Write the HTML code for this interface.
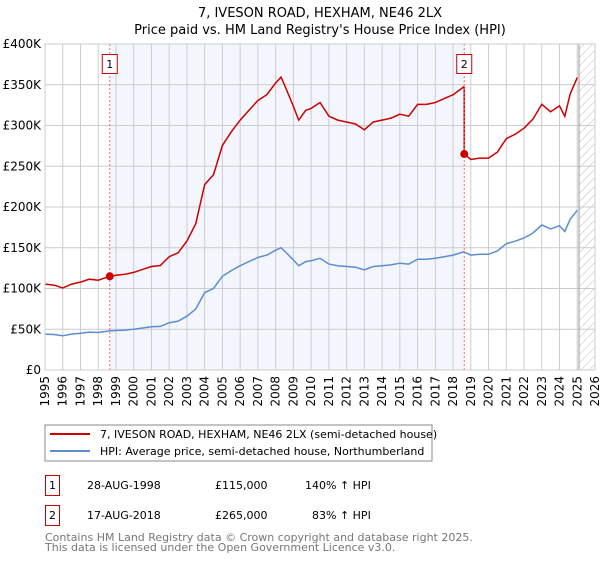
<!DOCTYPE html>
<html><head><meta charset="utf-8"><style>
body{margin:0;background:#fff;font-family:"DejaVu Sans","Liberation Sans",sans-serif;}
svg text{font-family:"DejaVu Sans","Liberation Sans",sans-serif;}
</style></head><body>
<svg id="c" width="600" height="560" xmlns="http://www.w3.org/2000/svg">
<defs><pattern id="hatch" width="6" height="6" patternUnits="userSpaceOnUse" patternTransform="rotate(45)"><line x1="0" y1="0" x2="0" y2="6" stroke="#bbb" stroke-width="1"/></pattern></defs>
<text x="320" y="17" text-anchor="middle" font-size="13" fill="#000">7, IVESON ROAD, HEXHAM, NE46 2LX</text>
<text x="320" y="34" text-anchor="middle" font-size="13" fill="#000">Price paid vs. HM Land Registry's House Price Index (HPI)</text>
<g id="grid"></g><g id="marks"></g><g id="axes"></g>
<rect x="45" y="425" width="387" height="36" fill="#fff" stroke="#888"/>
<line x1="50" y1="434" x2="90" y2="434" stroke="#cc0000" stroke-width="2"/>
<text x="100" y="438" font-size="11">7, IVESON ROAD, HEXHAM, NE46 2LX (semi-detached house)</text>
<line x1="50" y1="451" x2="90" y2="451" stroke="#5b8ed0" stroke-width="2"/>
<text x="100" y="455" font-size="11">HPI: Average price, semi-detached house, Northumberland</text>
<g font-size="11">
<rect x="45.5" y="475.5" width="14" height="20" fill="#fff" stroke="#cc0000"/>
<text x="52.5" y="489" text-anchor="middle">1</text>
<text x="87" y="489">28-AUG-1998</text>
<text x="215" y="489">£115,000</text>
<text x="305" y="489">140% ↑ HPI</text>
<rect x="45.5" y="505.5" width="14" height="20" fill="#fff" stroke="#cc0000"/>
<text x="52.5" y="519" text-anchor="middle">2</text>
<text x="87" y="519">17-AUG-2018</text>
<text x="215" y="519">£265,000</text>
<text x="312" y="519">83% ↑ HPI</text>
</g>
<text x="45" y="541" font-size="11" fill="#777">Contains HM Land Registry data © Crown copyright and database right 2025.</text>
<text x="45" y="551" font-size="11" fill="#777">This data is licensed under the Open Government Licence v3.0.</text>
</svg>
<script>
const hpiYears=[1995,1995.5,1996,1996.5,1997,1997.5,1998,1998.65,1999,1999.5,2000,2000.5,2001,2001.5,2002,2002.5,2003,2003.5,2004,2004.5,2005,2005.5,2006,2006.5,2007,2007.5,2008,2008.3,2008.5,2009,2009.3,2009.7,2010,2010.5,2011,2011.5,2012,2012.5,2013,2013.5,2014,2014.5,2015,2015.5,2016,2016.5,2017,2017.5,2018,2018.6,2019,2019.5,2020,2020.5,2021,2021.5,2022,2022.5,2023,2023.5,2024,2024.3,2024.6,2025];
const hpiValues=[44000,43500,42000,44000,45000,46500,46000,48000,48500,49000,50000,51500,53000,53500,58000,60000,66000,75000,95000,100000,115000,122000,128000,133000,138000,141000,147000,150000,146000,135000,128000,133000,134000,137000,130000,128000,127000,126000,123000,127000,128000,129000,131000,130000,136000,136000,137000,139000,141000,145000,141000,142000,142000,146000,155000,158000,162000,168000,178000,173000,177000,170000,185000,196000];
const saleYears=[1998.65,2018.63];
const salePrices=[115000,265000];
const saleLabels=["1","2"];
const yTicks=[0,50000,100000,150000,200000,250000,300000,350000,400000];
const yTickLabels=["£0","£50K","£100K","£150K","£200K","£250K","£300K","£350K","£400K"];
const xTicks=[1995,1996,1997,1998,1999,2000,2001,2002,2003,2004,2005,2006,2007,2008,2009,2010,2011,2012,2013,2014,2015,2016,2017,2018,2019,2020,2021,2022,2023,2024,2025,2026];

const X0=45,X1=595,Y0=370,Y1=44;
const x=t=>X0+(t-1995)/(2026-1995)*(X1-X0);
const y=v=>Y0-v/400000*(Y0-Y1);
const NS="http://www.w3.org/2000/svg";
function mk(tag,attrs,parent){const e=document.createElementNS(NS,tag);for(const k in attrs)e.setAttribute(k,attrs[k]);parent.appendChild(e);return e;}
const grid=document.getElementById('grid'),marks=document.getElementById('marks'),axes=document.getElementById('axes');
function hpiAt(t){for(let i=0;i<hpiYears.length-1;i++){if(t>=hpiYears[i]&&t<=hpiYears[i+1]){const f=(t-hpiYears[i])/(hpiYears[i+1]-hpiYears[i]);return hpiValues[i]+f*(hpiValues[i+1]-hpiValues[i]);}}return hpiValues[hpiValues.length-1];}

let r=mk('rect',{x:x(saleYears[0]),y:Y1,width:x(saleYears[1])-x(saleYears[0]),height:Y0-Y1,fill:'#f3f6fd'},grid);


let h=mk('rect',{x:x(2025.1),y:Y1,width:X1-x(2025.1),height:Y0-Y1,fill:'url(#hatch)'},grid);


xTicks.forEach((t,i)=>{
  const l=mk('line',{x1:x(t),x2:x(t),y1:Y1,y2:Y0,stroke:'#ccc','stroke-width':1},grid);
  
  
  const tx=mk('text',{x:0,y:0,'font-size':12,'text-anchor':'end',transform:`translate(${x(t)+4},${Y0+6}) rotate(-90)`},axes);
  tx.textContent=t;
  
  
});
yTicks.forEach((v,i)=>{
  const l=mk('line',{x1:X0,x2:X1,y1:y(v),y2:y(v),stroke:'#ccc','stroke-width':1},grid);
  
  
  const tx=mk('text',{x:X0-4,y:y(v)+4,'font-size':12,'text-anchor':'end'},axes);
  tx.textContent=yTickLabels[i];
  
  
});
let nl=mk('line',{x1:x(2025.1),x2:x(2025.1),y1:Y1,y2:Y0,stroke:'#999','stroke-width':1},grid);



// HPI line
let p=hpiYears.map((t,i)=>`${i?'L':'M'}${x(t).toFixed(1)},${y(hpiValues[i]).toFixed(1)}`).join('');
let hl=mk('path',{d:p,fill:'none',stroke:'#5b8ed0','stroke-width':1.5},marks);


// Property line: HPI scaled from each sale
let f1=salePrices[0]/hpiAt(saleYears[0]),f2=salePrices[1]/hpiAt(saleYears[1]);
let pts=[];
hpiYears.forEach((t,i)=>{ if(t<saleYears[1]) pts.push([t,hpiValues[i]*f1]); });
pts.push([saleYears[1],hpiAt(saleYears[1])*f1]);
pts.push([saleYears[1],salePrices[1]]);
hpiYears.forEach((t,i)=>{ if(t>saleYears[1]) pts.push([t,hpiValues[i]*f2]); });
let pd=pts.map((q,i)=>`${i?'L':'M'}${x(q[0]).toFixed(1)},${y(q[1]).toFixed(1)}`).join('');
let pl=mk('path',{d:pd,fill:'none',stroke:'#cc0000','stroke-width':1.5},marks);


saleYears.forEach((t,i)=>{
  const vl=mk('line',{x1:x(t),x2:x(t),y1:Y1,y2:Y0,stroke:'#ff6666','stroke-width':1,'stroke-dasharray':'2,2'},marks);
  
  
  const c=mk('circle',{cx:x(t),cy:y(salePrices[i]),r:4,fill:'#cc0000'},marks);
  
  
  const b=mk('rect',{x:x(t)-7.5,y:54.5,width:15,height:19,fill:'#fff',stroke:'#cc0000'},marks);
  
  
  const tx=mk('text',{x:x(t),y:68,'font-size':11,'text-anchor':'middle'},marks);
  tx.textContent=saleLabels[i];
  
  
});
let fr=mk('rect',{x:X0,y:Y1,width:X1-X0,height:Y0-Y1,fill:'none',stroke:'#ccc'},axes);


</script>
</body></html>
